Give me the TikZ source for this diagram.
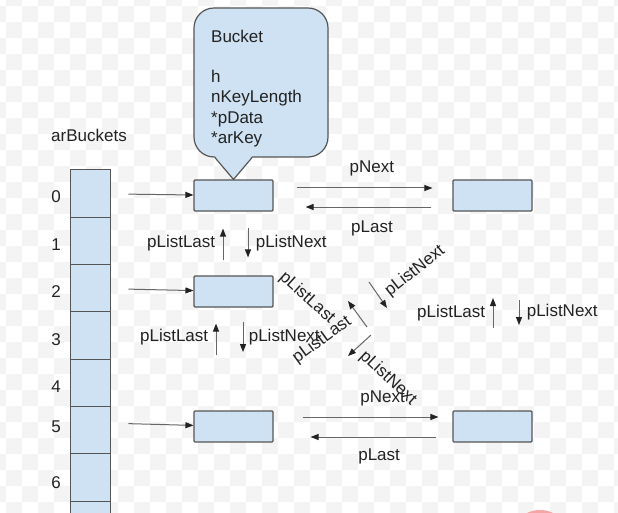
\documentclass[tikz,border=0pt]{standalone}
\usepackage{fontspec}
\setmainfont{Liberation Sans}
\usetikzlibrary{arrows.meta}
\definecolor{cellblue}{HTML}{CFE2F3}
\definecolor{edge}{HTML}{555555}
\definecolor{ink}{HTML}{222222}
\definecolor{checker}{HTML}{F4F4F4}
\definecolor{blob}{HTML}{F4A5A5}

\begin{document}
\begin{tikzpicture}[x=1pt, y=-1pt,
  every node/.style={font=\fontsize{17}{20.3}\selectfont, text=ink},
  cell/.style={draw=edge, fill=cellblue, line width=1pt, minimum width=40pt, minimum height=47.3pt, inner sep=0pt},
  bucket/.style={draw=edge, fill=cellblue, line width=1.1pt, rounded corners=1pt, minimum width=79pt, minimum height=31pt, inner sep=0pt},
  note/.style={draw=edge, fill=cellblue, line width=1.2pt, rounded corners=20pt, minimum width=134pt, minimum height=149pt, inner sep=0pt},
  ptr/.style={draw=black!60, line width=1pt, -{Triangle[length=8pt, width=6pt, color=ink]}}
]
  \useasboundingbox (0,0) rectangle (618,513);
  % checkered background
  \fill[white] (0,0) rectangle (618,513);
  \foreach \i in {-1,...,38} {
    \foreach \j in {-1,...,31} {
      \pgfmathtruncatemacro\odd{mod(\i+\j+2,2)}
      \ifnum\odd=1 \fill[checker] (6+16*\i,6+16*\j) rectangle ++(16,16); \fi
    }
  }
  \fill[blob] (540,540) circle (30);

  % arBuckets
  \node (title) at (89,135) {arBuckets};
  \foreach \i in {0,...,7} {
    \node[cell] (c\i) at (90,193.65+47.3*\i) {};
  }
  \foreach \i/\y in {0/197,1/245,2/292,3/340,4/387,5/427,6/483} {
    \node (n\i) at (56,\y) {\i};
  }

  % buckets
  \node[bucket] (b0) at (233.5,195.5) {};
  \node[bucket] (b2) at (233.5,291.5) {};
  \node[bucket] (b5) at (233.5,426.5) {};
  \node[bucket] (r0) at (492.5,195.5) {};
  \node[bucket] (r5) at (492.5,426.5) {};

  % callout
  \node[note] (bub) at (261,82.5) {};
  \coordinate (tipbase) at (b0.north |- bub.south);
  \fill[cellblue] ([xshift=-18.5pt,yshift=1.5pt]tipbase) -- (b0.north) -- ([xshift=18.5pt,yshift=1.5pt]tipbase) -- cycle;
  \draw[edge, line width=1.2pt, line join=round] ([xshift=-18.5pt]tipbase) -- (b0.north) -- ([xshift=18.5pt]tipbase);
  \node[align=left, anchor=north west, inner sep=0pt] (info) at (211,29.5) {Bucket\\[20.3pt]h\\nKeyLength\\*pData\\*arKey};

  % arBuckets -> buckets
  \draw[ptr, shorten <=18pt] (c0) -- (b0);
  \draw[ptr, shorten <=18pt] (c2) -- (b2);
  \draw[ptr, shorten <=18pt] ([yshift=7pt]c5.east) -- (b5);

  % pNext / pLast
  \draw[ptr, shorten <=23pt, shorten >=20pt] ([yshift=7.5pt]b0.east) -- ([yshift=7.5pt]r0.west) node[pos=.55, yshift=20pt] {pNext};
  \draw[ptr, shorten <=21pt, shorten >=32pt] ([yshift=-11.5pt]r0.west) -- ([yshift=-11.5pt]b0.east) node[pos=.45, yshift=-21pt] {pLast};
  \draw[ptr, shorten <=29pt, shorten >=14pt] ([yshift=9.5pt]b5.east) -- ([yshift=9.5pt]r5.west) node[pos=.61, yshift=19pt] {pNext};
  \draw[ptr, shorten <=16pt, shorten >=37pt] ([yshift=-10.5pt]r5.west) -- ([yshift=-10.5pt]b5.east) node[pos=.41, yshift=-19pt] {pLast};

  % pListLast / pListNext
  \draw[ptr, shorten <=15pt, shorten >=17pt] ([xshift=-10.5pt]b2.north) -- ([xshift=-10.5pt]b0.south) node[midway, left=4pt] {pListLast};
  \draw[ptr, shorten <=16pt, shorten >=18pt] ([xshift=14.5pt]b0.south) -- ([xshift=14.5pt]b2.north) node[midway, right=4pt] {pListNext};

  \coordinate (l3) at (216,355);
  \coordinate (n3) at (243,352);
  \draw[ptr, shorten >=16pt] (l3) -- (l3 |- b2.south) node[pos=.37, left=4pt] {pListLast};
  \draw[ptr, shorten <=14pt] (n3 |- b2.south) -- (n3) node[pos=.67, right=2pt] {pListNext};

  \coordinate (l4) at (493,328);
  \coordinate (l4e) at (493,298);
  \coordinate (n4) at (519,300);
  \coordinate (n4e) at (519,325);
  \draw[ptr] (l4) -- (l4e) node[midway, left=4pt] {pListLast};
  \draw[ptr] (n4) -- (n4e) node[midway, right=4pt] {pListNext};

  % crossing links
  \coordinate (xa) at (369,282);
  \coordinate (xae) at (387,308);
  \coordinate (xb) at (367,327);
  \coordinate (xbe) at (348,301);
  \coordinate (xc) at (371,335);
  \coordinate (xce) at (348,356);
  \draw[ptr] (xa) -- (xae);
  \draw[ptr] (xb) -- (xbe);
  \draw[ptr] (xc) -- (xce);
  \node[rotate=38] (ta) at (415,271) {pListNext};
  \node[rotate=-42] (tb) at (307,298) {pListLast};
  \node[rotate=-43] (tc) at (388,378) {pListNext};
  \node[rotate=36] (td) at (322,340) {pListLast};
\end{tikzpicture}
\end{document}
